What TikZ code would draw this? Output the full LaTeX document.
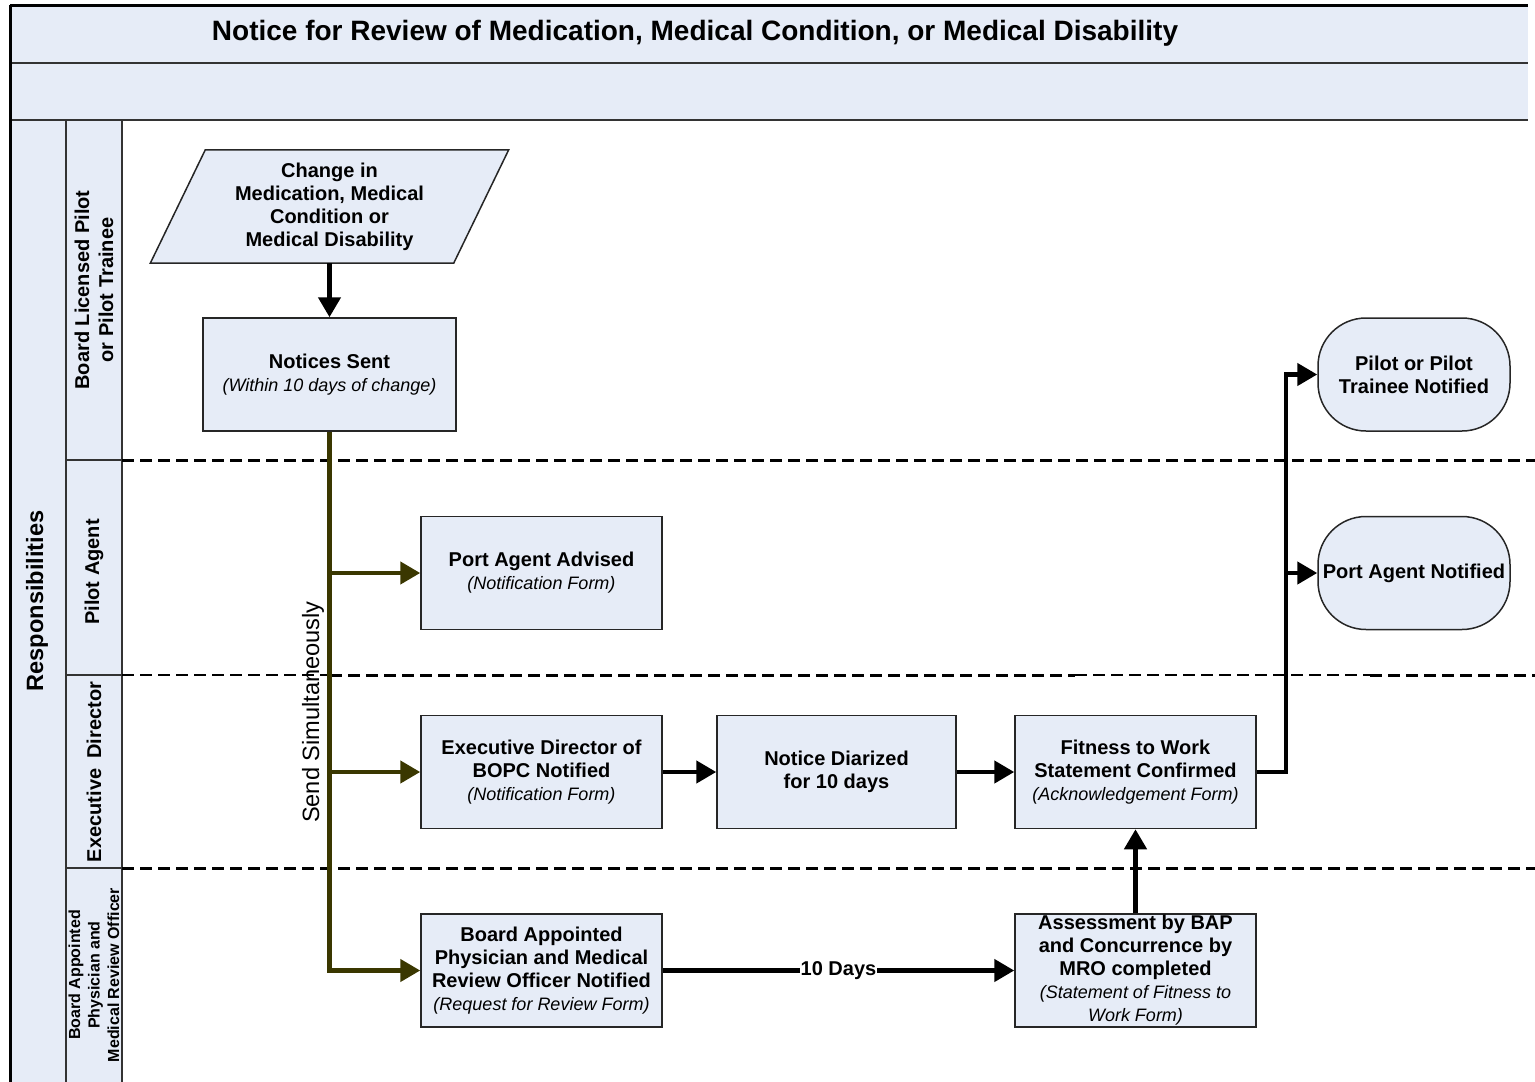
\documentclass[tikz,border=0pt]{standalone}
\usepackage{fontspec}
\setmainfont{Liberation Sans}
\usetikzlibrary{arrows.meta,positioning,calc,backgrounds}

\definecolor{laneblue}{RGB}{230,236,247}
\definecolor{sendolive}{RGB}{58,55,0}

\newcommand{\boxfont}{\fontsize{20}{23}\selectfont\bfseries}
\newcommand{\formnote}[1]{{\mdseries\itshape\fontsize{18}{23}\selectfont #1}}

\tikzset{
  procbox/.style={draw=black!85, fill=laneblue, line width=1.5pt, minimum width=241pt,
    minimum height=113pt, inner sep=1pt, align=center, font=\boxfont},
  notebox/.style={procbox, rounded corners=48pt, minimum width=192pt, inner sep=0pt},
  inbox/.style={minimum width=303pt, minimum height=113pt, inner sep=0pt, align=center, font=\boxfont},
  flow/.style={line width=4.5pt, -{Triangle[length=20pt,width=22pt]}},
  sendflow/.style={flow, draw=sendolive},
  frameline/.style={line width=3pt},
  cellline/.style={line width=1.5pt, draw=black!80},
  lanesep/.style={line width=3pt, dash pattern=on 12pt off 6pt},
  lanesepthin/.style={line width=1.5pt, dash pattern=on 12pt off 6pt},
  lanelabel/.style={rotate=90, align=center, font=\fontsize{20}{24}\selectfont\bfseries},
  daylabel/.style={fill=white, inner sep=1pt, font=\fontsize{20}{23}\selectfont\bfseries},
}

\begin{document}
\begin{tikzpicture}[x=1pt,y=-1pt]
\useasboundingbox (0,0) rectangle (1535,1082);

% swimlane frame
\fill[laneblue] (10,5) rectangle (1528,120);
\fill[laneblue] (10,120) rectangle (122,1082);
\draw[cellline] (10,63) -- (1528,63) (10,120) -- (1528,120);
\draw[cellline] (66,120) -- (66,1082) (122,120) -- (122,1082);
\draw[cellline] (66,460) -- (122,460) (66,675) -- (122,675) (66,868) -- (122,868);
\draw[frameline] (10,5) -- (1528,5);
\draw[frameline] (10,5) -- (10,1082);
\draw[lanesep] (122,460) -- (1535,460);
\draw[lanesepthin] (122,675) -- (330,675);
\draw[lanesep] (330,675) -- (1075,675);
\draw[lanesepthin] (1075,675) -- (1370,675);
\draw[lanesep] (1370,675) -- (1535,675);
\draw[lanesep] (122,868) -- (1535,868);

\node[font=\fontsize{28}{32}\selectfont\bfseries] (title) at (695,33)
  {Notice for Review of Medication, Medical Condition, or Medical Disability};

% lane labels
\node[lanelabel, font=\fontsize{23.6}{28}\selectfont\bfseries] (resp) at (37,601) {Responsibilities};
\node[lanelabel] (lanepilot) at (94,290) {Board Licensed Pilot\\or Pilot Trainee};
\node[lanelabel] (laneagent) at (94,572) {Pilot Agent};
\node[lanelabel] (laneexec) at (94,772) {Executive\enspace Director};
\node[lanelabel, font=\fontsize{16}{19.5}\selectfont\bfseries] (lanebap) at (94,975)
  {Board Appointed\\Physician and\\Medical Review Officer};

% steps
\node[inbox] (change) at (329.5,206.5) {Change in\\Medication, Medical\\Condition or\\Medical Disability};
\begin{scope}[on background layer]
  \draw[fill=laneblue, line width=1.5pt, draw=black!85]
    ($(change.south west)+(-27.5,0)$) -- ($(change.south east)+(-27.5,0)$)
    -- ($(change.north east)+(27.5,0)$) -- ($(change.north west)+(27.5,0)$) -- cycle;
\end{scope}
\node[procbox, minimum width=253pt] (notices) at (329.5,374.5)
  {Notices Sent\\\formnote{(Within 10 days of change)}};
\node[procbox] (portadv) at (541.5,573) {Port Agent Advised\\\formnote{(Notification Form)}};
\node[procbox] (execdir) at (541.5,772)
  {Executive Director of\\BOPC Notified\\\formnote{(Notification Form)}};
\node[procbox, minimum width=239pt] (diarized) at (836.5,772) {Notice Diarized\\for 10 days};
\node[procbox] (fitness) at (1135.5,772)
  {Fitness to Work\\Statement Confirmed\\\formnote{(Acknowledgement Form)}};
\node[procbox, below=84pt of execdir] (bap)
  {Board Appointed\\Physician and Medical\\Review Officer Notified\\\formnote{(Request for Review Form)}};
\node[procbox] (assess) at (fitness |- bap)
  {Assessment by BAP\\and Concurrence by\\MRO completed\\\formnote{(Statement of Fitness to}\\\formnote{Work Form)}};
\node[notebox] (pilotnote) at (1414,374.5) {Pilot or Pilot\\Trainee Notified};
\node[notebox] (portnote) at (1414,573) {Port Agent Notified};

% connectors
\draw[flow] (change.south) -- (notices.north);
\draw[sendflow] (notices.south) |- (bap.west);
\draw[sendflow] (notices.south |- portadv.west) -- (portadv.west);
\draw[sendflow] (notices.south |- execdir.west) -- (execdir.west);
\node[rotate=90, font=\fontsize{23.6}{28}\selectfont] (sendnote) at (313,712) {Send Simultaneously};
\draw[flow] (execdir) -- (diarized);
\draw[flow] (diarized) -- (fitness);
\coordinate (split) at ($(fitness.east)+(29,0)$);
\draw[flow] (fitness.east) -- (split) |- (pilotnote.west);
\draw[flow] (split) |- (portnote.west);
\draw[flow] (bap) -- node[daylabel] (days) {10 Days} (assess);
\draw[flow] (assess) -- (fitness);
\end{tikzpicture}
\end{document}
